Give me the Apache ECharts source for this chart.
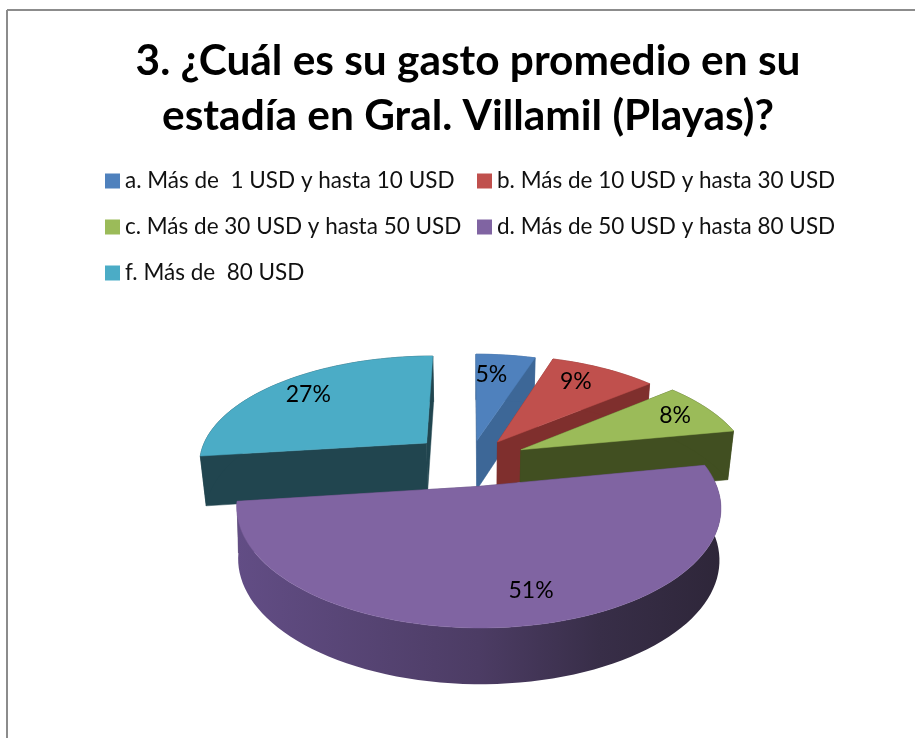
<!DOCTYPE html>
<html>
<head>
<meta charset="utf-8">
<style>
  html, body { margin: 0; padding: 0; background: #fff; }
  #chart { width: 915px; height: 738px; }
</style>
<script src="https://cdn.jsdelivr.net/npm/echarts@6/dist/echarts.min.js"></script>
</head>
<body>
<div id="chart"></div>
<script>
// datos
const categories = [
  'a. Más de  1 USD y hasta 10 USD',
  'b. Más de 10 USD y hasta 30 USD',
  'c. Más de 30 USD y hasta 50 USD',
  'd. Más de 50 USD y hasta 80 USD',
  'f. Más de  80 USD'
];
const percents = [5, 9, 8, 51, 27];

const topColors = ['#4f81bd', '#c0504d', '#9bbb59', '#8064a2', '#4bacc6'];
const wallColors = ['#3d6797', '#7f2f2d', '#414f21', '#4f3f66', '#21454f'];
// orden de dibujo: atras hacia adelante
const drawOrder = [0, 4, 1, 2, 3];
// separacion de cada porcion, estrechamiento de la pared y ajuste fino de etiquetas
const explode = [0.2, 0.22, 0.25, 0.23, 0.26];
const shrink = [0.02, 0.02, 0.022, 0.006, 0.022];
const labelNudge = [[-8, 0], [-4, -4], [12, -3], [19, 5], [-6, -2]];

// proyeccion del pastel 3D
const CX = 470, CY = 461, RX = 229, RY = 107.5, PERSP = 0.171, DEPTH = 50;

const project = (u, v, z, idx) => {
  const s = 1 / (1 + PERSP * v);
  return [CX + RX * u * s * (1 - shrink[idx] * z), CY - RY * v * s + z * DEPTH * Math.sqrt(s)];
};

const total = percents.reduce((a, b) => a + b, 0);

const sliceShapes = (idx) => {
  let before = 0;
  for (let i = 0; i < idx; i++) before += percents[i];
  const start = before / total * Math.PI * 2;
  const end = (before + percents[idx]) / total * Math.PI * 2;
  const mid = (start + end) / 2;
  const ox = Math.sin(mid) * explode[idx], oy = Math.cos(mid) * explode[idx];
  const arc = [];
  const steps = Math.max(2, Math.ceil((end - start) / 0.04));
  for (let i = 0; i <= steps; i++) {
    const a = start + (end - start) * i / steps;
    arc.push([ox + Math.sin(a), oy + Math.cos(a)]);
  }
  const first = arc[0], last = arc[arc.length - 1];
  const wall = (pts) => pts.map(p => project(p[0], p[1], 0, idx))
    .concat(pts.slice().reverse().map(p => project(p[0], p[1], 1, idx)));
  return {
    top: [project(ox, oy, 0, idx)].concat(arc.map(p => project(p[0], p[1], 0, idx))),
    sideA: wall([[ox, oy], first]),
    sideB: wall([[ox, oy], last]),
    outer: wall(arc),
    label: project(ox + Math.sin(mid) * 0.75, oy + Math.cos(mid) * 0.75, 0, idx)
  };
};

const renderSlice = (idx) => (params, api) => {
  const shapes = sliceShapes(idx);
  const wallFill = idx === 3
    ? { type: 'linear', x: 0, y: 0, x2: 1, y2: 0, global: false, colorStops: [
        { offset: 0, color: '#624d85' },
        { offset: 0.5, color: '#4c3c64' },
        { offset: 0.75, color: '#382e48' },
        { offset: 1, color: '#2e2639' }
      ] }
    : wallColors[idx];
  const poly = (points, fill) => ({
    type: 'polygon',
    shape: { points: points },
    style: { fill: fill, stroke: fill === wallFill && idx === 3 ? null : fill, lineWidth: 0.5 }
  });
  return {
    type: 'group',
    children: [
      poly(shapes.sideA, wallColors[idx]),
      poly(shapes.sideB, wallColors[idx]),
      poly(shapes.outer, wallFill),
      poly(shapes.top, topColors[idx]),
      {
        type: 'text',
        x: shapes.label[0] + labelNudge[idx][0],
        y: shapes.label[1] + labelNudge[idx][1],
        style: {
          text: api.value(0) + '%',
          fill: '#000',
          font: '23px Lato',
          align: 'center',
          verticalAlign: 'middle'
        }
      }
    ]
  };
};

const series = drawOrder.map(idx => ({
  name: categories[idx],
  type: 'custom',
  coordinateSystem: 'none',
  itemStyle: { color: topColors[idx] },
  renderItem: renderSlice(idx),
  data: [[percents[idx]]],
  z: 2
}));

const legendText = { fontFamily: 'Lato', fontSize: 22.5, color: '#111', lineHeight: 26 };

const myChart = echarts.init(document.getElementById('chart'));
myChart.setOption({
  animation: false,
  title: {
    text: '3. ¿Cuál es su gasto promedio en su\nestadía en Gral. Villamil (Playas)?',
    left: 463,
    top: 29,
    textAlign: 'center',
    textStyle: { fontFamily: 'Lato', fontWeight: 'bold', fontSize: 42.4, lineHeight: 55, color: '#000' }
  },
  legend: [
    {
      orient: 'vertical', left: 105, top: 168, padding: 0, itemGap: 20,
      itemWidth: 15, itemHeight: 15, itemStyle: { borderWidth: 0 }, icon: 'rect', selectedMode: false,
      data: [categories[0], categories[2], categories[4]],
      textStyle: legendText
    },
    {
      orient: 'vertical', left: 477, top: 168, padding: 0, itemGap: 20,
      itemWidth: 15, itemHeight: 15, itemStyle: { borderWidth: 0 }, icon: 'rect', selectedMode: false,
      data: [categories[1], categories[3]],
      textStyle: legendText
    }
  ],
  graphic: [
    { type: 'line', shape: { x1: 7, y1: 10, x2: 915, y2: 10 }, style: { stroke: '#8c8c8c', lineWidth: 2 } },
    { type: 'line', shape: { x1: 7, y1: 10, x2: 7, y2: 738 }, style: { stroke: '#8c8c8c', lineWidth: 2 } }
  ],
  series: series
});
</script>
</body>
</html>
